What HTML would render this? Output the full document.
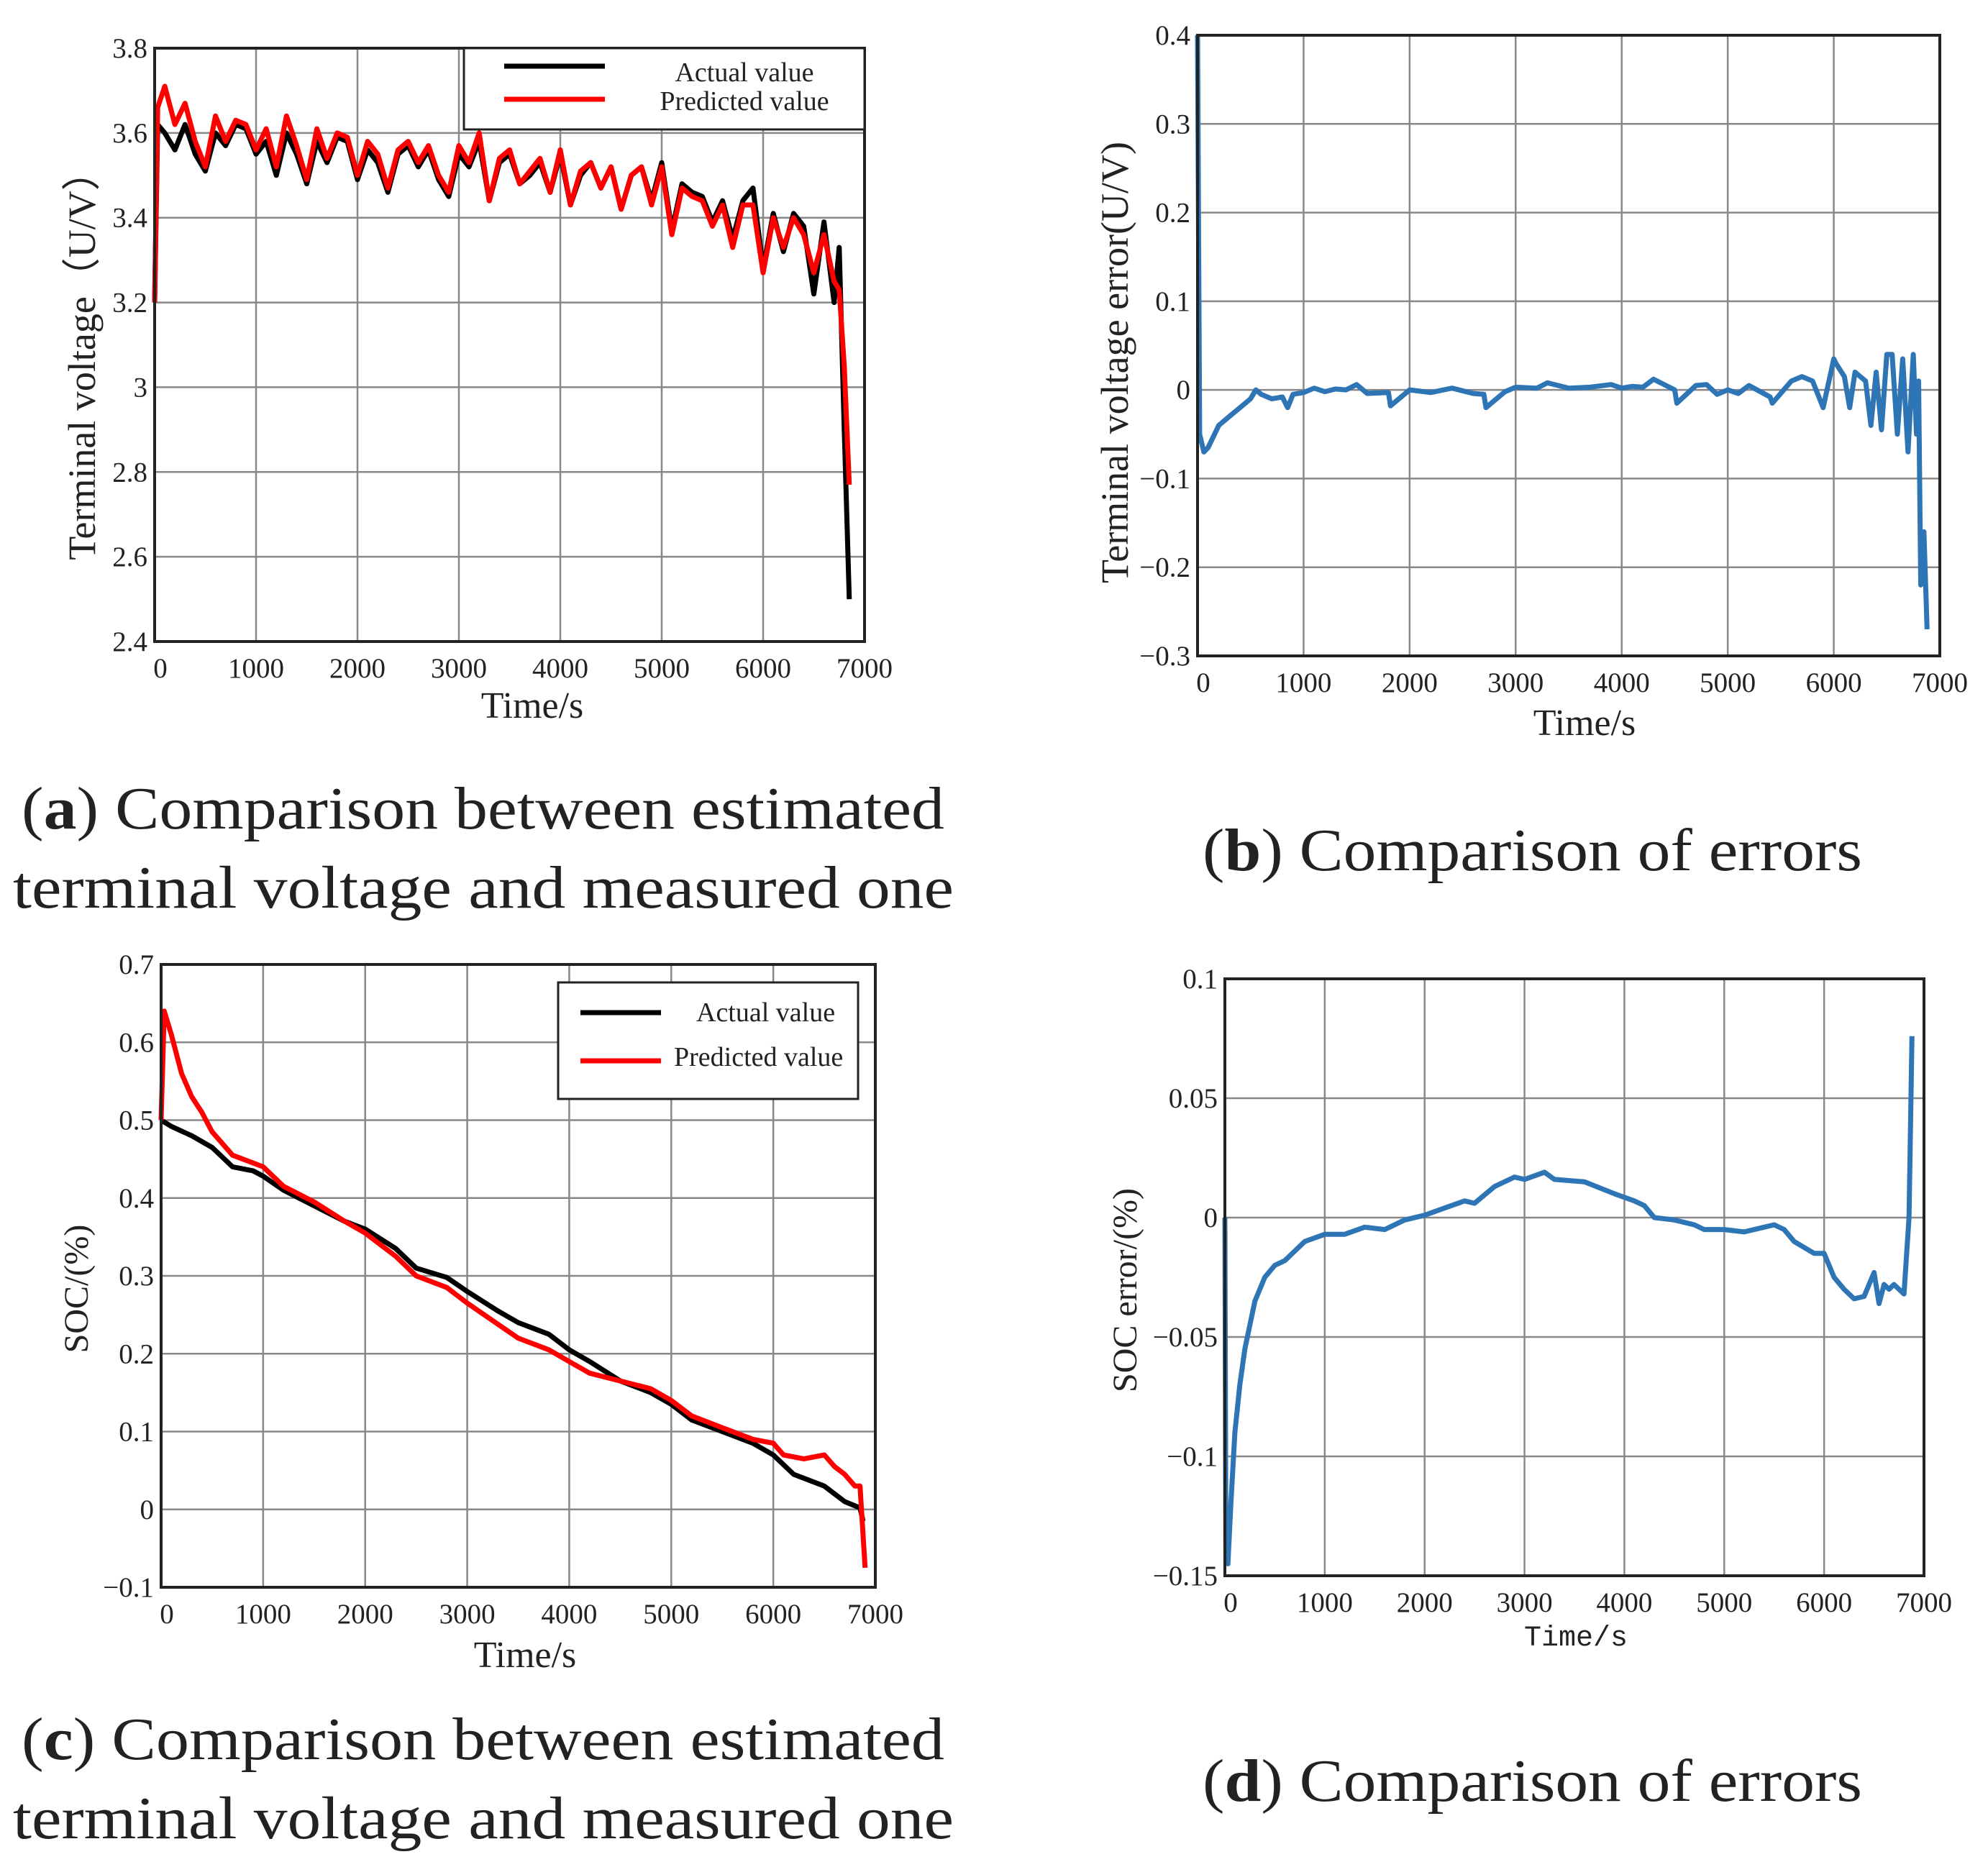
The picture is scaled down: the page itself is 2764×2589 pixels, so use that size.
<!DOCTYPE html>
<html><head><meta charset="utf-8"><style>
html,body{margin:0;padding:0;background:#fff}
svg{display:block}
text{font-family:"Liberation Serif",serif;fill:#222}
</style></head><body>
<svg id="fig" width="2764" height="2589" viewBox="0 0 2764 2589" xmlns="http://www.w3.org/2000/svg">
<g id="pa"></g>
<g id="pb"></g>
<g id="pc"></g>
<g id="pd"></g>
<g font-size="84">
<text x="30" y="1152" textLength="1283" lengthAdjust="spacingAndGlyphs">(<tspan font-weight="bold">a</tspan>) Comparison between estimated</text>
<text x="18" y="1262" textLength="1308" lengthAdjust="spacingAndGlyphs">terminal voltage and measured one</text>
<text x="1672" y="1210" textLength="917" lengthAdjust="spacingAndGlyphs">(<tspan font-weight="bold">b</tspan>) Comparison of errors</text>
<text x="30" y="2446" textLength="1283" lengthAdjust="spacingAndGlyphs">(<tspan font-weight="bold">c</tspan>) Comparison between estimated</text>
<text x="18" y="2556" textLength="1308" lengthAdjust="spacingAndGlyphs">terminal voltage and measured one</text>
<text x="1672" y="2504" textLength="917" lengthAdjust="spacingAndGlyphs">(<tspan font-weight="bold">d</tspan>) Comparison of errors</text>
</g>
</svg>
<script>
const xTicks=[0,1000,2000,3000,4000,5000,6000,7000];
// Panel a
const aTime=[0,30,100,200,300,400,500,600,700,800,900,1000,1100,1200,1300,1400,1500,1600,1700,1800,1900,2000,2100,2200,2300,2400,2500,2600,2700,2800,2900,3000,3100,3200,3300,3400,3500,3600,3700,3800,3900,4000,4100,4200,4300,4400,4500,4600,4700,4800,4900,5000,5100,5200,5300,5400,5500,5600,5700,5800,5900,6000,6100,6200,6300,6400,6500,6600,6700,6750,6800,6850];
const aActual=[3.2,3.62,3.60,3.56,3.62,3.55,3.51,3.60,3.57,3.62,3.61,3.55,3.58,3.50,3.60,3.55,3.48,3.58,3.53,3.59,3.58,3.49,3.56,3.53,3.46,3.55,3.57,3.52,3.56,3.49,3.45,3.55,3.52,3.58,3.44,3.53,3.55,3.48,3.50,3.53,3.46,3.55,3.43,3.50,3.53,3.47,3.52,3.42,3.50,3.52,3.44,3.53,3.37,3.48,3.46,3.45,3.39,3.44,3.35,3.44,3.47,3.28,3.41,3.32,3.41,3.38,3.22,3.39,3.20,3.33,2.90,2.50];
const aPred=[3.2,3.66,3.71,3.62,3.67,3.58,3.52,3.64,3.58,3.63,3.62,3.56,3.61,3.52,3.64,3.57,3.49,3.61,3.54,3.60,3.59,3.50,3.58,3.55,3.47,3.56,3.58,3.53,3.57,3.50,3.46,3.57,3.53,3.60,3.44,3.54,3.56,3.48,3.51,3.54,3.46,3.56,3.43,3.51,3.53,3.47,3.52,3.42,3.50,3.52,3.43,3.52,3.36,3.47,3.45,3.44,3.38,3.43,3.33,3.43,3.43,3.27,3.40,3.33,3.40,3.36,3.27,3.36,3.25,3.23,3.05,2.77];
const aYTicks=[2.4,2.6,2.8,3,3.2,3.4,3.6,3.8];
const aYLabels=["2.4","2.6","2.8","3","3.2","3.4","3.6","3.8"];
// Panel b
const bTime=[0,20,60,100,200,300,400,500,550,600,700,800,850,900,1000,1100,1200,1300,1400,1500,1600,1800,1820,2000,2200,2400,2600,2700,2720,2900,3000,3200,3300,3500,3700,3900,4000,4100,4200,4300,4500,4520,4700,4800,4900,5000,5100,5200,5400,5420,5600,5700,5800,5900,6000,6020,6100,6150,6200,6300,6350,6400,6450,6500,6550,6600,6650,6700,6750,6780,6800,6820,6850,6880];
const bErr=[0.4,-0.05,-0.07,-0.065,-0.04,-0.03,-0.02,-0.01,0,-0.005,-0.01,-0.008,-0.02,-0.005,-0.003,0.002,-0.002,0.001,0,0.006,-0.004,-0.003,-0.018,0,-0.003,0.002,-0.004,-0.005,-0.02,-0.002,0.003,0.002,0.008,0.002,0.003,0.006,0.002,0.004,0.003,0.012,0,-0.015,0.005,0.006,-0.005,0,-0.004,0.005,-0.008,-0.015,0.01,0.015,0.01,-0.02,0.035,0.03,0.015,-0.02,0.02,0.01,-0.04,0.02,-0.045,0.04,0.04,-0.05,0.035,-0.07,0.04,-0.05,0.01,-0.22,-0.16,-0.27];
const bYTicks=[-0.3,-0.2,-0.1,0,0.1,0.2,0.3,0.4];
const bYLabels=["\u22120.3","\u22120.2","\u22120.1","0","0.1","0.2","0.3","0.4"];
// Panel c
const cTimeA=[0,100,300,500,700,900,1000,1200,1500,1800,2000,2300,2500,2800,3000,3300,3500,3800,4000,4200,4500,4800,5000,5200,5500,5800,6000,6200,6500,6700,6850,6880];
const cActual=[0.5,0.492,0.48,0.465,0.44,0.435,0.428,0.41,0.39,0.37,0.36,0.335,0.31,0.298,0.28,0.255,0.24,0.225,0.205,0.19,0.165,0.15,0.135,0.115,0.10,0.085,0.07,0.045,0.03,0.01,0.002,-0.015];
const cTimeP=[0,30,100,200,300,400,500,700,1000,1200,1500,1800,2000,2300,2500,2800,3000,3300,3500,3800,4000,4200,4500,4800,5000,5200,5500,5800,6000,6100,6300,6500,6600,6700,6800,6850,6900];
const cPred=[0.5,0.64,0.61,0.56,0.53,0.51,0.485,0.455,0.44,0.415,0.395,0.37,0.355,0.325,0.3,0.285,0.265,0.238,0.22,0.205,0.19,0.175,0.165,0.155,0.14,0.12,0.105,0.09,0.085,0.07,0.065,0.07,0.055,0.045,0.03,0.03,-0.075];
const cYTicks=[-0.1,0,0.1,0.2,0.3,0.4,0.5,0.6,0.7];
const cYLabels=["\u22120.1","0","0.1","0.2","0.3","0.4","0.5","0.6","0.7"];
// Panel d
const dTime=[0,10,30,60,100,150,200,300,400,500,600,700,800,1000,1200,1400,1600,1800,2000,2200,2400,2500,2700,2900,3000,3200,3300,3600,3900,4100,4200,4300,4500,4700,4800,5000,5200,5400,5500,5600,5700,5900,6000,6100,6200,6300,6400,6500,6550,6600,6650,6700,6800,6850,6880];
const dErr=[0,-0.14,-0.145,-0.12,-0.09,-0.07,-0.055,-0.035,-0.025,-0.02,-0.018,-0.014,-0.01,-0.007,-0.007,-0.004,-0.005,-0.001,0.001,0.004,0.007,0.006,0.013,0.017,0.016,0.019,0.016,0.015,0.01,0.007,0.005,0.0,-0.001,-0.003,-0.005,-0.005,-0.006,-0.004,-0.003,-0.005,-0.01,-0.015,-0.015,-0.025,-0.03,-0.034,-0.033,-0.023,-0.036,-0.028,-0.03,-0.028,-0.032,0.0,0.076];
const dYTicks=[-0.15,-0.1,-0.05,0,0.05,0.1];
const dYLabels=["\u22120.15","\u22120.1","\u22120.05","0","0.05","0.1"];

const NS="http://www.w3.org/2000/svg";
function mk(parent,tag,attrs,txt){const e=document.createElementNS(NS,tag);for(const k in attrs)e.setAttribute(k,attrs[k]);if(txt!==undefined)e.textContent=txt;parent.appendChild(e);return e;}

function axes(g,box,ymin,ymax,yTicks,yLabels){
  const sx=v=>box.L+(v-0)/7000*(box.R-box.L);
  const sy=v=>box.B-(v-ymin)/(ymax-ymin)*(box.B-box.T);
  xTicks.forEach((t,i)=>{
    const x=sx(t);
    if(i>0&&i<xTicks.length-1){const l=mk(g,'line',{x1:x,x2:x,y1:box.T,y2:box.B,stroke:'#888','stroke-width':2.5});
      
      }
    const tx=mk(g,'text',{x:x+(i===0?8:0),y:box.B+50,'font-size':39,'text-anchor':'middle'},String(t));
    
    
  });
  yTicks.forEach((t,i)=>{
    const y=sy(t);
    if(i>0&&i<yTicks.length-1){const l=mk(g,'line',{x1:box.L,x2:box.R,y1:y,y2:y,stroke:'#888','stroke-width':2.5});
      
      }
    const tx=mk(g,'text',{x:box.L-10,y:y+13,'font-size':39,'text-anchor':'end'},yLabels[i]);
    
    
  });
  return {sx,sy};
}
function frame(g,box){
  const r=mk(g,'rect',{x:box.L,y:box.T,width:box.R-box.L,height:box.B-box.T,fill:'none',stroke:'#222','stroke-width':4});
  
  
}
function series(g,s,xs,ys,color,w,name){
  const d=xs.map((x,i)=>(i?'L':'M')+s.sx(x).toFixed(1)+' '+s.sy(ys[i]).toFixed(1)).join(' ');
  const p=mk(g,'path',{d:d,fill:'none',stroke:color,'stroke-width':w,'stroke-linejoin':'round'});
  
  
}
function title(g,x,y,txt,rot,size,name,mono){
  const t=mk(g,'text',{x:x,y:y,'font-size':size,'text-anchor':'middle',transform:rot?`rotate(-90 ${x} ${y})`:''},txt);
  if(mono)t.setAttribute('style','font-family:"Liberation Mono",monospace');
  
  
}
function legend(g,b,items){
  const r=mk(g,'rect',{x:b.x,y:b.y,width:b.w,height:b.h,fill:'#fff',stroke:'#222','stroke-width':3});
  
  
  items.forEach(it=>{
    const l=mk(g,'line',{x1:it.x1,x2:it.x2,y1:it.y,y2:it.y,stroke:it.c,'stroke-width':7});
    
    
    const t=mk(g,'text',{x:it.tx,y:it.ty,'font-size':38,'text-anchor':it.anchor},it.label);
    
    
  });
}
// A
{const g=document.getElementById('pa');const box={L:215,R:1202,T:67,B:892};
const s=axes(g,box,2.4,3.8,aYTicks,aYLabels);
series(g,s,aTime,aActual,'#000',7,'actual-voltage-line');
series(g,s,aTime,aPred,'#f00',7,'predicted-voltage-line');
frame(g,box);
legend(g,{x:645,y:67,w:557,h:113},[{x1:701,x2:841,y:92,c:'#000',tx:1035,ty:113,anchor:'middle',label:'Actual value'},{x1:701,x2:841,y:138,c:'#f00',tx:1035,ty:153,anchor:'middle',label:'Predicted value'}]);
title(g,132,495,'Terminal voltage（U/V）',true,54,'y-axis-title');
title(g,740,998,'Time/s',false,52,'x-axis-title');}
// B
{const g=document.getElementById('pb');const box={L:1665,R:2697,T:49,B:912};
const s=axes(g,box,-0.3,0.4,bYTicks,bYLabels);
series(g,s,bTime,bErr,'#2e75b6',7,'voltage-error-line');
frame(g,box);
title(g,1568,504,'Terminal voltage error(U/V)',true,54,'y-axis-title');
title(g,2203,1022,'Time/s',false,52,'x-axis-title');}
// C
{const g=document.getElementById('pc');const box={L:224,R:1217,T:1341,B:2207};
const s=axes(g,box,-0.1,0.7,cYTicks,cYLabels);
series(g,s,cTimeA,cActual,'#000',7,'actual-soc-line');
series(g,s,cTimeP,cPred,'#f00',7,'predicted-soc-line');
frame(g,box);
legend(g,{x:776,y:1366,w:417,h:162},[{x1:807,x2:919,y:1408,c:'#000',tx:968,ty:1420,anchor:'start',label:'Actual value'},{x1:807,x2:919,y:1475,c:'#f00',tx:937,ty:1482,anchor:'start',label:'Predicted value'}]);
title(g,122,1792,'SOC/(%)',true,48,'y-axis-title');
title(g,730,2318,'Time/s',false,52,'x-axis-title');}
// D
{const g=document.getElementById('pd');const box={L:1703,R:2675,T:1361,B:2191};
const s=axes(g,box,-0.15,0.1,dYTicks,dYLabels);
series(g,s,dTime,dErr,'#2e75b6',7,'soc-error-line');
frame(g,box);
title(g,1580,1794,'SOC error/(%)',true,48,'y-axis-title');
title(g,2191,2288,'Time/s',false,40,'x-axis-title',true);}
</script>
</body></html>
